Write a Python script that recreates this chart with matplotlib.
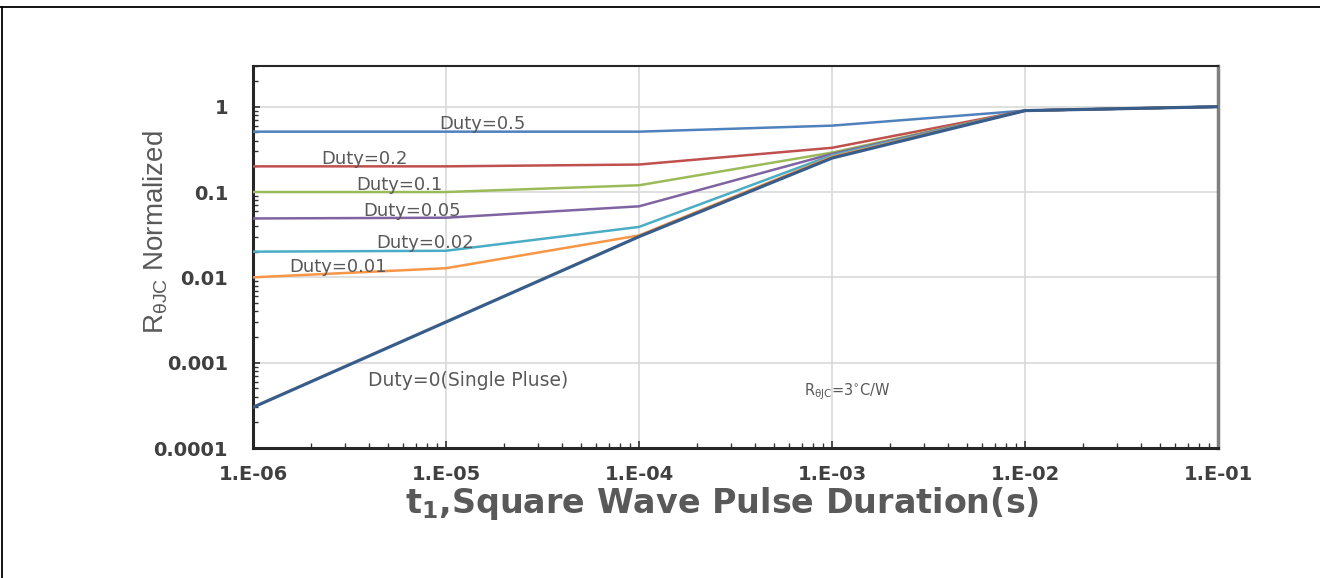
import matplotlib
matplotlib.use('Agg')
import matplotlib.pyplot as plt
from matplotlib.lines import Line2D
from matplotlib.ticker import LogLocator, FixedLocator, NullFormatter

plt.rcParams['font.family'] = ['DejaVu Sans']
plt.rcParams['mathtext.fontset'] = 'dejavusans'

# pulse duration (s)
t1 = [1e-6, 1e-5, 1e-4, 1e-3, 1e-2, 1e-1]

# normalized thermal impedance for each duty cycle
duty_05 = [0.51, 0.51, 0.51, 0.60, 0.90, 1.0]
duty_02 = [0.20, 0.20, 0.21, 0.33, 0.90, 1.0]
duty_01 = [0.10, 0.10, 0.12, 0.29, 0.90, 1.0]
duty_005 = [0.049, 0.050, 0.068, 0.28, 0.90, 1.0]
duty_002 = [0.020, 0.0205, 0.039, 0.27, 0.90, 1.0]
duty_001 = [0.010, 0.0128, 0.031, 0.26, 0.90, 1.0]
single = [0.0003, 0.003, 0.030, 0.25, 0.90, 1.0]

# curve, colour, label text, label x (centre), label y (baseline)
series = [
    (duty_05, '#4F81BD', 'Duty=0.5', 1.54e-5, 0.551),
    (duty_02, '#C0504D', 'Duty=0.2', 3.76e-6, 0.213),
    (duty_01, '#9BBB59', 'Duty=0.1', 5.7e-6, 0.106),
    (duty_005, '#8064A2', 'Duty=0.05', 6.67e-6, 0.052),
    (duty_002, '#4BACC6', 'Duty=0.02', 7.8e-6, 0.0219),
    (duty_001, '#F79646', 'Duty=0.01', 2.76e-6, 0.0114),
    (single, '#385D8A', 'Duty=0(Single Pluse)', 1.3e-5, 0.00054),
]

xticks = [1e-6, 1e-5, 1e-4, 1e-3, 1e-2, 1e-1]
xticklabels = ['1.E-06', '1.E-05', '1.E-04', '1.E-03', '1.E-02', '1.E-01']
yticks = [1e-4, 1e-3, 1e-2, 1e-1, 1]
yticklabels = ['0.0001', '0.001', '0.01', '0.1', '1']

gray = '#595959'

fig = plt.figure(figsize=(13.2, 5.78), dpi=100)
ax = fig.add_axes([253 / 1320, 1 - 448 / 578, 965 / 1320, 382 / 578])

for vals, color, label, lx, ly in series:
    lw = 2.3 if label.startswith('Duty=0(') else 1.8
    ax.plot(t1, vals, color=color, lw=lw, zorder=3)
    fs = 13.5 if label.startswith('Duty=0(') else 13
    ax.text(lx, ly, label, color=gray, fontsize=fs, ha='center', va='baseline', zorder=4)

ax.text(7.2e-4, 0.00041, r'R$_{\mathregular{θJC}}$=3$^{\circ}$C/W', color=gray,
        fontsize=10.5, ha='left', va='baseline')

ax.set_xscale('log')
ax.set_yscale('log')
ax.set_xlim(1e-6, 1e-1)
ax.set_ylim(1e-4, 3)

ax.xaxis.set_major_locator(FixedLocator(xticks))
ax.set_xticklabels(xticklabels, fontsize=14, fontweight='bold', color='#404040')
ax.yaxis.set_major_locator(FixedLocator(yticks))
ax.set_yticklabels(yticklabels, fontsize=14, fontweight='bold', color='#404040')
ax.xaxis.set_minor_locator(LogLocator(base=10, subs=range(2, 10), numticks=20))
ax.yaxis.set_minor_locator(LogLocator(base=10, subs=range(2, 10), numticks=20))
ax.xaxis.set_minor_formatter(NullFormatter())
ax.yaxis.set_minor_formatter(NullFormatter())

ax.tick_params(which='both', direction='in', color='#333333', top=False, right=False)
ax.tick_params(which='major', length=5, width=1.2)
ax.tick_params(which='minor', length=3.5, width=1.0)
ax.tick_params(axis='y', which='major', pad=18)
ax.tick_params(axis='x', which='major', pad=12)

ax.grid(True, which='major', color='#D9D9D9', lw=1.2, zorder=0)

for side in ['left', 'bottom', 'top']:
    ax.spines[side].set_color('#262626')
ax.spines['left'].set_linewidth(2.2)
ax.spines['bottom'].set_linewidth(2.2)
ax.spines['top'].set_linewidth(1.5)
ax.spines['right'].set_color('#7F7F7F')
ax.spines['right'].set_linewidth(2.5)

ax.set_xlabel(r't$_{\mathregular{1}}$,Square Wave Pulse Duration(s)', fontsize=24,
              fontweight='bold', color=gray)
ax.xaxis.set_label_coords(0.486, -0.098)
ax.set_ylabel(r'R$_{\mathregular{θJC}}$ Normalized', fontsize=20, color=gray,
              family=['Liberation Sans'])
ax.yaxis.set_label_coords(-0.086, 0.565)

# outer frame lines
fig.add_artist(Line2D([0, 1], [1 - 7 / 578, 1 - 7 / 578], color='black', lw=1.3))
fig.add_artist(Line2D([2 / 1320, 2 / 1320], [0, 1 - 7 / 578], color='black', lw=1.3))

fig.savefig('out.png', dpi=100)
